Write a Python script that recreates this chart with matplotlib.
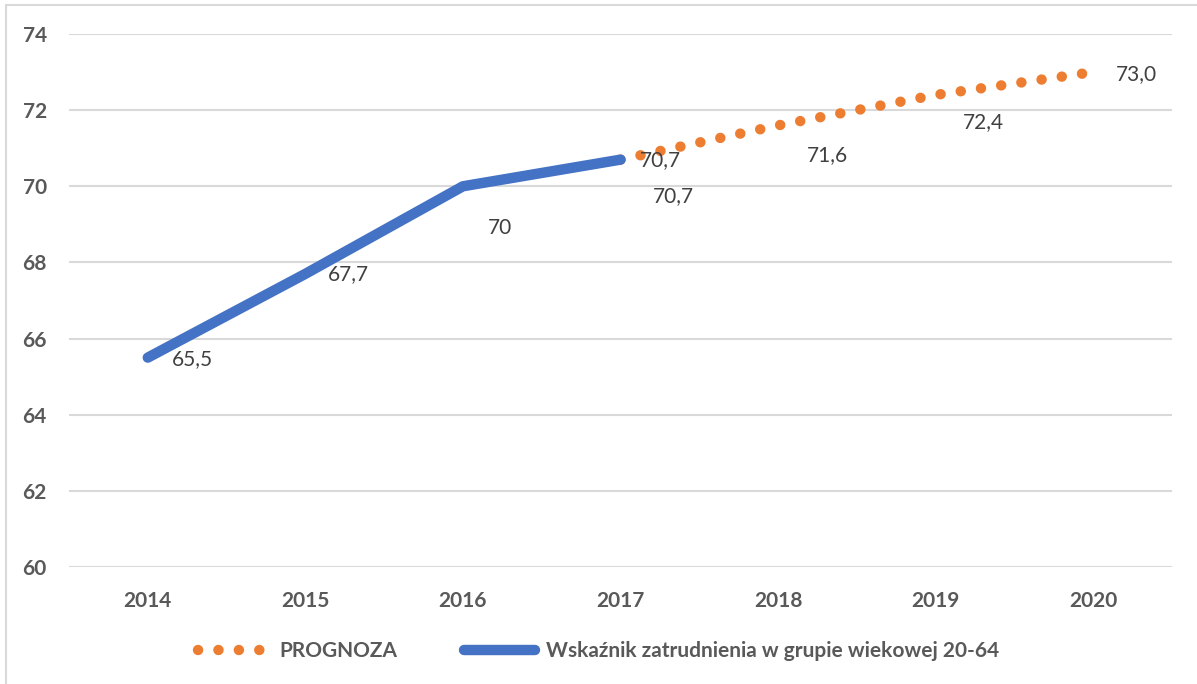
import matplotlib
matplotlib.use("Agg")
import matplotlib.pyplot as plt
from matplotlib.patches import Rectangle
from matplotlib.lines import Line2D
from matplotlib.font_manager import FontProperties

plt.rcParams['font.family'] = ['Lato', 'DejaVu Sans']

years = ["2014", "2015", "2016", "2017", "2018", "2019", "2020"]
actual_years = ["2014", "2015", "2016", "2017"]
actual_values = [65.5, 67.7, 70.0, 70.7]
actual_labels = ["65,5", "67,7", "70", "70,7"]
forecast_years = ["2017", "2018", "2019", "2020"]
forecast_values = [70.7, 71.6, 72.4, 73.0]
forecast_labels = ["70,7", "71,6", "72,4", "73,0"]
yticks = [60, 62, 64, 66, 68, 70, 72, 74]

BLUE = "#4472C4"
ORANGE = "#ED7D31"
TICK = "#595959"
LABEL = "#404040"

fig = plt.figure(figsize=(11.97, 6.84), dpi=100)
ax = fig.add_axes([69/1197, 117/684, (1172-69)/1197, (567-34)/684])

# chart frame (partially outside the picture)
fig.patches.append(Rectangle((6/1197, -0.1), 1.2, 1 - 5/684 + 0.1,
                             transform=fig.transFigure, fill=False,
                             edgecolor="#D9D9D9", linewidth=1.5))

xpos = {y: i for i, y in enumerate(years)}
fx = [xpos[y] for y in forecast_years]
ax_x = [xpos[y] for y in actual_years]

DOT = (0, (0.01, 1.95))
ax.plot(fx, forecast_values, color=ORANGE, linewidth=7.5,
        linestyle=DOT, dash_capstyle='round', zorder=2)
ax.plot(ax_x, actual_values, color=BLUE, linewidth=7.5,
        solid_capstyle='round', solid_joinstyle='round', zorder=3)

actual_off = [(45, -1), (43, 0), (37, -42), (53, -36)]
forecast_off = [(40, 0), (49, -30), (48, -27), (43, -2)]
for x, v, t, o in zip(ax_x, actual_values, actual_labels, actual_off):
    ax.annotate(t, (x, v), xytext=o, textcoords='offset pixels',
                ha='center', va='center', fontsize=15, color=LABEL, zorder=4)
for x, v, t, o in zip(fx, forecast_values, forecast_labels, forecast_off):
    ax.annotate(t, (x, v), xytext=o, textcoords='offset pixels',
                ha='center', va='center', fontsize=15, color=LABEL, zorder=4)

ax.set_xlim(-0.5, len(years) - 0.5)
ax.set_ylim(60, 74)
ax.set_xticks(range(len(years)))
ax.set_yticks(yticks)
ax.set_xticklabels(years, fontsize=15, fontweight='bold', color=TICK)
ax.set_yticklabels([str(v) for v in yticks], fontsize=15, fontweight='bold', color=TICK)
ax.tick_params(axis='both', length=0)
ax.tick_params(axis='x', pad=17)
ax.tick_params(axis='y', pad=16)
for s in ax.spines.values():
    s.set_visible(False)
ax.grid(axis='y', color="#D9D9D9", linewidth=1.5)
ax.set_axisbelow(True)

handles = [
    Line2D([], [], color=ORANGE, linewidth=7.5, linestyle=DOT,
           dash_capstyle='round'),
    Line2D([], [], color=BLUE, linewidth=7.5, solid_capstyle='round'),
]
leg_font = FontProperties(family=['Lato', 'DejaVu Sans'], weight='bold', size=15)
leg = fig.legend(handles, ["PROGNOZA", "Wskaźnik zatrudnienia w grupie wiekowej 20-64"],
                 loc='center', bbox_to_anchor=(0.5, 33/684), ncol=2,
                 frameon=False, handlelength=3.4, columnspacing=3.2,
                 handletextpad=0.5, prop=leg_font)
for t in leg.get_texts():
    t.set_color(TICK)

fig.savefig("out.png", dpi=100)
